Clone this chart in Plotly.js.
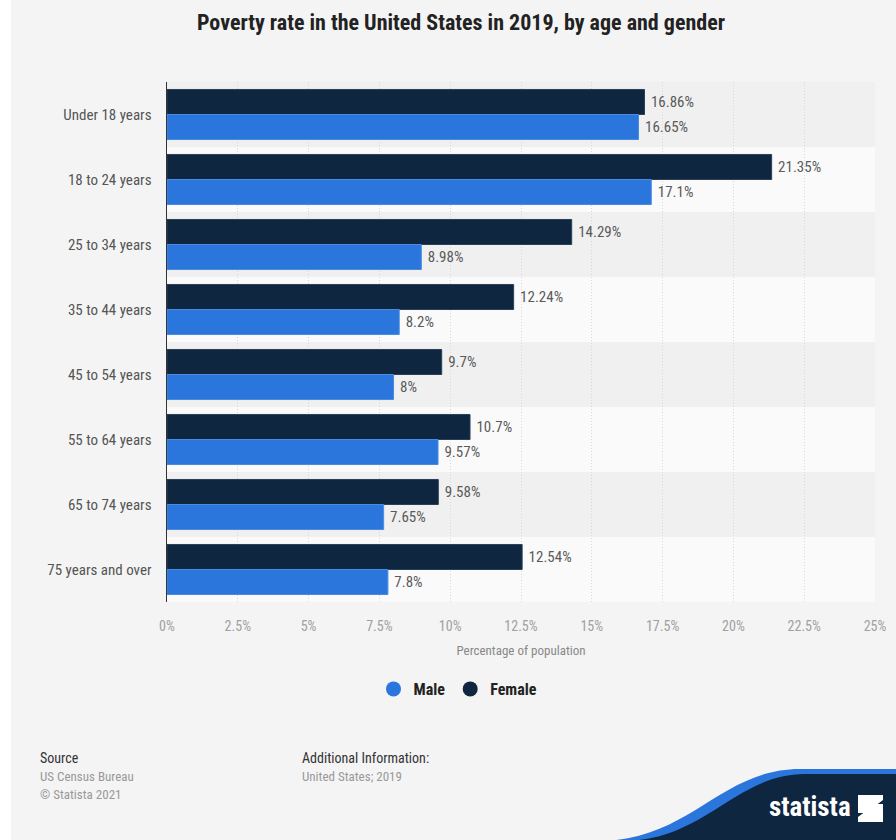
<!DOCTYPE html>
<html>
<head>
<meta charset="utf-8">
<script src="https://cdn.plot.ly/plotly-3.0.1.min.js"></script>
<style>html,body{margin:0;padding:0;background:#f4f4f4;}#chart{width:896px;height:840px;}</style>
</head>
<body>
<div id="chart"></div>
<script>
const categories = ["Under 18 years","18 to 24 years","25 to 34 years","35 to 44 years","45 to 54 years","55 to 64 years","65 to 74 years","75 years and over"];
const female = [16.86, 21.35, 14.29, 12.24, 9.7, 10.7, 9.58, 12.54];
const male = [16.65, 17.1, 8.98, 8.2, 8, 9.57, 7.65, 7.8];
const tickVals = [0,2.5,5,7.5,10,12.5,15,17.5,20,22.5,25];
const tickText = ["0%","2.5%","5%","7.5%","10%","12.5%","15%","17.5%","20%","22.5%","25%"];

const W = 896, H = 840;
const M = {l:167, r:21, t:82, b:238};
const PW = W - M.l - M.r, PH = H - M.t - M.b;
const px = x => (x - M.l) / PW;
const py = y => (H - M.b - y) / PH;

const FONT = "Roboto Condensed, Liberation Sans Narrow, Arial Narrow, Liberation Sans, Arial, sans-serif";
const MALE_C = "#2a76dc", FEMALE_C = "#0f2640";

const fmt = v => "\u00a0" + v + "%";

const traces = [
  {type:"bar", orientation:"h", name:"Female", y:categories, x:female,
   marker:{color:FEMALE_C, line:{color:"#2b3f57", width:1}},
   text:female.map(fmt), textposition:"outside", cliponaxis:false, constraintext:"none",
   textfont:{family:FONT, size:15, color:"#5a5a5a"}, showlegend:false, hoverinfo:"x+y"},
  {type:"bar", orientation:"h", name:"Male", y:categories, x:male,
   marker:{color:MALE_C, line:{color:"#4a8be0", width:1}},
   text:male.map(fmt), textposition:"outside", cliponaxis:false, constraintext:"none",
   textfont:{family:FONT, size:15, color:"#5a5a5a"}, showlegend:false, hoverinfo:"x+y"},
  {type:"scatter", mode:"markers", name:"<b>Male</b>", x:[null], y:[null],
   marker:{color:MALE_C, size:15, symbol:"circle"}, showlegend:true},
  {type:"scatter", mode:"markers", name:"<b>Female</b>", x:[null], y:[null],
   marker:{color:FEMALE_C, size:15, symbol:"circle"}, showlegend:true}
];

const shapes = [];
categories.forEach((c, i) => {
  shapes.push({type:"rect", xref:"paper", yref:"y", x0:0, x1:1, y0:i-0.5, y1:i+0.5,
    fillcolor: i % 2 === 0 ? "#f0f0f0" : "#fafafa", line:{width:0}, layer:"below"});
});
shapes.push({type:"rect", xref:"paper", yref:"paper", x0:px(0), x1:px(11), y0:py(H), y1:py(0),
  fillcolor:"#ffffff", line:{width:0}, layer:"below"});
const P = (x, y) => px(x) + "," + py(y);
shapes.push({type:"path", xref:"paper", yref:"paper",
  path:"M " + P(598,841) + " C " + P(690,841) + " " + P(720,769) + " " + P(800,769) + " L " + P(897,769) + " L " + P(897,841) + " Z",
  fillcolor:"#2a76dc", line:{width:0}});
shapes.push({type:"path", xref:"paper", yref:"paper",
  path:"M " + P(622,841) + " C " + P(705,841) + " " + P(735,774) + " " + P(805,774) + " L " + P(897,774) + " L " + P(897,841) + " Z",
  fillcolor:"#0f2640", line:{width:0}});
shapes.push({type:"path", xref:"paper", yref:"paper",
  path:"M " + P(858,795) + " L " + P(883,795) + " L " + P(883,800) + " L " + P(866,813) + " L " + P(858,813) + " Z",
  fillcolor:"#ffffff", line:{width:0}});
shapes.push({type:"path", xref:"paper", yref:"paper",
  path:"M " + P(875,804) + " L " + P(883,804) + " L " + P(883,822) + " L " + P(858,822) + " L " + P(858,817) + " Z",
  fillcolor:"#ffffff", line:{width:0}});

const ann = (x, y, text, size, color, opts) => Object.assign({
  xref:"paper", yref:"paper", x:px(x), y:py(y), text:text, showarrow:false,
  xanchor:"left", yanchor:"middle", font:{family:FONT, size:size, color:color}}, opts||{});

const annotations = [
  ann(38, 758, "Source", 14, "#333"),
  ann(38, 776, "US Census Bureau", 13, "#999"),
  ann(38, 794, "© Statista 2021", 13, "#999"),
  ann(300, 758, "Additional Information:", 14, "#333"),
  ann(300, 776, "United States; 2019", 13, "#999"),
  ann(853, 807, "<b>statista</b>", 27, "#ffffff", {xanchor:"right"})
];

const layout = {
  width:W, height:H,
  paper_bgcolor:"#f4f4f4", plot_bgcolor:"rgba(0,0,0,0)",
  margin:M,
  font:{family:FONT, color:"#555"},
  title:{text:"<b>Poverty rate in the United States in 2019, by age and gender</b>",
    font:{family:FONT, size:22, color:"#222"}, x:px(461), xref:"paper", xanchor:"center",
    y:1 - 22/H, yanchor:"middle"},
  barmode:"group", bargap:0.23, bargroupgap:0,
  xaxis:{range:[0,25], tickvals:tickVals, ticktext:tickText, showgrid:true,
    gridcolor:"#d8d8d8", griddash:"1px,2px", gridwidth:1, zeroline:false, showline:false,
    ticks:"", ticklabelstandoff:14, tickfont:{family:FONT, size:14, color:"#a0a0a0"},
    title:{text:"Percentage of population", font:{family:FONT, size:13, color:"#888"}, standoff:12},
    fixedrange:true},
  yaxis:{type:"category", autorange:"reversed", showgrid:false, zeroline:false,
    showline:true, linecolor:"#333", linewidth:1.5, ticks:"", ticklabelstandoff:11,
    tickfont:{family:FONT, size:15, color:"#555"}, fixedrange:true},
  legend:{orientation:"h", x:px(458), xanchor:"center", y:py(689), yanchor:"middle",
    font:{family:FONT, size:16, color:"#222"}, itemwidth:30, bgcolor:"rgba(0,0,0,0)",
    traceorder:"normal"},
  shapes:shapes,
  annotations:annotations
};

Plotly.newPlot("chart", traces, layout, {displayModeBar:false, staticPlot:true});
</script>
</body>
</html>
